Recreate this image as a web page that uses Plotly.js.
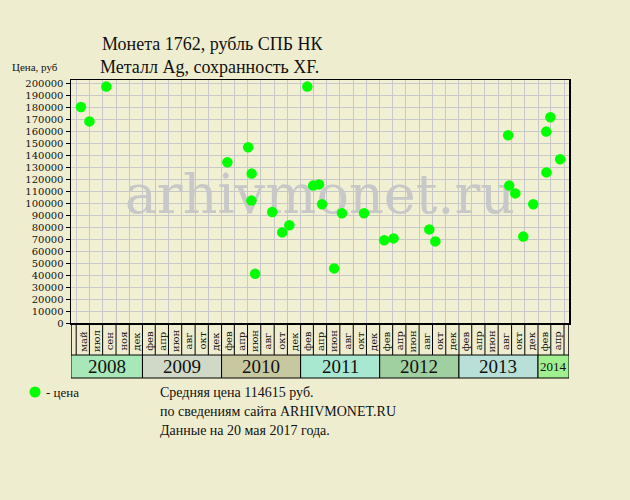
<!DOCTYPE html>
<html>
<head>
<meta charset="utf-8">
<script src="https://cdn.plot.ly/plotly-3.0.1.min.js"></script>
<style>html,body{margin:0;padding:0;background:#EFEDCF;}#chart{width:630px;height:500px;}</style>
</head>
<body>
<div id="chart"></div>
<script>
// ---- data ----
const saleDates = ["2008-03-23","2008-05-01","2008-07-18","2010-01-28","2010-05-04","2010-05-20","2010-05-19","2010-06-05","2010-08-23","2010-10-08","2010-11-10","2011-02-01","2011-02-28","2011-03-27","2011-04-10","2011-06-05","2011-07-11","2011-10-21","2012-01-22","2012-03-05","2012-08-17","2012-09-14","2013-08-16","2013-08-21","2013-09-18","2013-10-25","2013-12-10","2014-02-09","2014-02-08","2014-02-27","2014-04-13"];
const salePrices = [180000,168000,197000,134000,146500,124500,102000,41000,92500,75500,81500,197000,114500,115500,99000,45500,91500,91500,69000,70500,78000,68000,156500,114500,108000,72000,99000,125500,159500,171500,136500];
const years = [2008,2009,2010,2011,2012,2013,2014];
const yearColors = ["#A8E8B8","#D0D8C8","#C8C8A0","#A8E8D0","#A0D0A0","#B8E0D8","#A0F090"];
const monthLabels = {
  2008: ["май","июл","сен","ноя","дек"],
  2009: ["фев","апр","июн","авг","окт","дек"],
  2010: ["фев","апр","июн","авг","окт","дек"],
  2011: ["фев","апр","июн","авг","окт","дек"],
  2012: ["фев","апр","июн","авг","окт","дек"],
  2013: ["фев","апр","июн","авг","окт","дек"],
  2014: ["фев","апр"]
};
const titleLines = ["Монета 1762, рубль СПБ НК", "Металл Ag, сохранность XF."];
const yTitle = "Цена, руб";
const legendText = "- цена";
const noteLines = ["Средняя цена 114615 руб.", "по сведениям сайта ARHIVMONET.RU", "Данные на 20 мая 2017 года."];
const watermark = "arhivmonet.ru";
const xStart = "2008-02-06", xEnd = "2014-05-24";
const yMax = 202500;

// ---- layout geometry ----
const W = 630, H = 500, mL = 71, mR = 61, mT = 80, mB = 177;
const pw = W - mL - mR, ph = H - mT - mB;
const bottomPx = H - mB; // pixel y of value 0
const py = p => (bottomPx - p) / ph;
const px = p => (p - mL) / pw;
const serif = "DejaVu Serif";
const serif2 = "Liberation Serif";

const pad = n => (n < 10 ? "0" : "") + n;
const ds = (y, m, d) => y + "-" + pad(m) + "-" + pad(d || 1);
const t = s => Date.parse(s + "T00:00:00Z");
const tS = t(xStart), tE = t(xEnd);

const shapes = [], annotations = [];
const labTop = py(bottomPx), labBot = py(bottomPx + 32), yearBot = py(bottomPx + 55);

// column separators + month labels
years.forEach((yr, yi) => {
  const bins = [];
  for (let m = 1; m <= 11; m += 2) {
    const s = ds(yr, m), e = m === 11 ? ds(yr + 1, 1) : ds(yr, m + 2);
    if (t(s) > tS && t(s) < tE) {
      shapes.push({type:"line", xref:"x", yref:"paper", x0:s, x1:s, y0:labTop, y1:labBot, line:{color:"#000", width:1}});
    }
    if (t(s) >= tS && t(e) <= tE) bins.push([s, e]);
  }
  const labs = monthLabels[yr];
  bins.forEach((b, i) => {
    if (i >= labs.length) return;
    const mid = new Date((t(b[0]) + t(b[1])) / 2).toISOString().slice(0, 10);
    annotations.push({xref:"x", yref:"paper", x:mid, y:py(bottomPx + 18), text:labs[i], textangle:-90, showarrow:false, font:{family:serif, size:10, color:"#111"}, xanchor:"center", yanchor:"middle"});
  });
  // year boxes
  const ys = t(ds(yr,1)) < tS ? xStart : ds(yr, 1);
  const ye = t(ds(yr + 1, 1)) > tE ? xEnd : ds(yr + 1, 1);
  shapes.push({type:"rect", xref:"x", yref:"paper", x0:ys, x1:ye, y0:yearBot, y1:labBot, fillcolor:yearColors[yi], line:{color:"#000", width:1}});
  const ymid = new Date((t(ys) + t(ye)) / 2).toISOString().slice(0, 10);
  const narrow = (t(ye) - t(ys)) < 200 * 86400000;
  annotations.push({xref:"x", yref:"paper", x:ymid, y:(yearBot + labBot) / 2, text:String(yr), showarrow:false, font:{family:serif2, size:narrow ? 13 : 19, color:"#111"}, xanchor:"center", yanchor:"middle"});
});
// label area side borders
[xStart, xEnd].forEach(x => shapes.push({type:"line", xref:"x", yref:"paper", x0:x, x1:x, y0:labTop, y1:labBot, line:{color:"#000", width:1.5}}));

// legend dot
shapes.push({type:"circle", xref:"paper", yref:"paper", xsizemode:"pixel", ysizemode:"pixel", xanchor:px(35), yanchor:py(392), x0:-5.5, x1:5.5, y0:-5.5, y1:5.5, fillcolor:"#00FF00", line:{width:0}});
annotations.push({xref:"paper", yref:"paper", x:px(44), y:py(392), text:legendText, showarrow:false, xanchor:"left", yanchor:"middle", font:{family:serif2, size:13, color:"#111"}});
noteLines.forEach((s, i) => annotations.push({xref:"paper", yref:"paper", x:px(158), y:py(392 + i * 19), text:s, showarrow:false, xanchor:"left", yanchor:"middle", font:{family:serif2, size:14, color:"#111"}}));
annotations.push({xref:"paper", yref:"paper", x:px(10), y:py(67), text:yTitle, showarrow:false, xanchor:"left", yanchor:"middle", font:{family:serif2, size:11, color:"#111"}});
annotations.push({xref:"paper", yref:"paper", x:px(100), y:py(44), text:titleLines[0], showarrow:false, xanchor:"left", yanchor:"middle", font:{family:serif2, size:18, color:"#111"}});

const midX = new Date((tS + tE) / 2).toISOString().slice(0, 10);

const traces = [
  {type:"scatter", mode:"text", x:[midX], y:[yMax * 0.51], text:[watermark], textfont:{family:serif, size:54, color:"#C8C8C8"}, hoverinfo:"skip", showlegend:false, cliponaxis:false},
  {type:"scatter", mode:"markers", x:saleDates, y:salePrices, marker:{color:"#00FF00", size:10.5, line:{width:0}}, showlegend:false, cliponaxis:false}
];

const layout = {
  width:W, height:H,
  margin:{l:mL, r:mR, t:mT, b:mB},
  paper_bgcolor:"#EFEDCF", plot_bgcolor:"#F2F0D3",
  title:{text:titleLines[1], x:100 / W, xref:"container", xanchor:"left", y:1 - 67 / H, yref:"container", yanchor:"middle", font:{family:serif2, size:18, color:"#111"}},
  xaxis:{type:"date", range:[xStart, xEnd], showticklabels:false, showgrid:true, gridcolor:"#C8C8C8", gridwidth:1, dtick:"M2", tick0:"2008-01-01", ticks:"", showline:true, mirror:true, linecolor:"#000", linewidth:1.5, zeroline:false, fixedrange:true},
  yaxis:{range:[0, yMax], dtick:10000, tick0:0, tickformat:"d", showgrid:true, gridcolor:"#C8C8C8", gridwidth:1, ticks:"outside", ticklen:4, tickcolor:"#000", showline:true, mirror:true, linecolor:"#000", linewidth:1.5, zeroline:false, tickfont:{family:serif, size:10, color:"#111"}, fixedrange:true},
  shapes:shapes,
  annotations:annotations,
  showlegend:false
};

Plotly.newPlot("chart", traces, layout, {displayModeBar:false, staticPlot:true});
</script>
</body>
</html>
